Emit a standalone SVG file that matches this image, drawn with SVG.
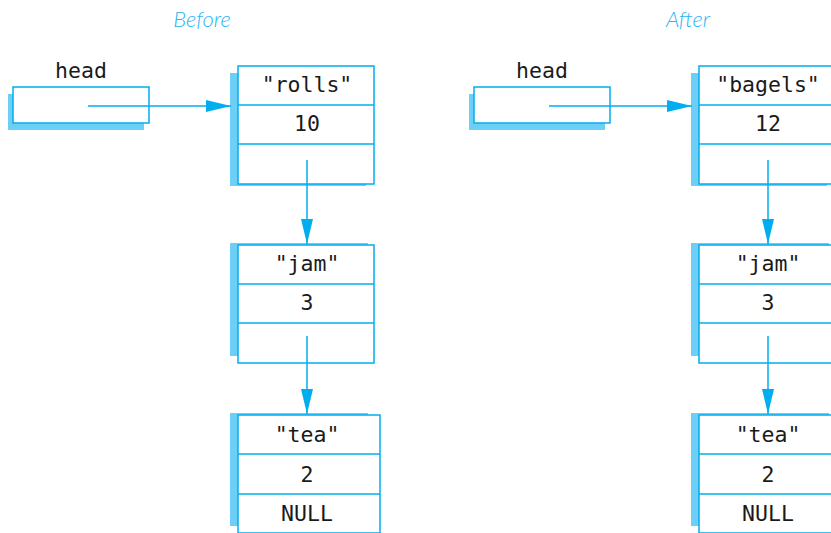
<svg xmlns="http://www.w3.org/2000/svg" width="831" height="533" viewBox="0 0 831 533">
<style>
.sh{fill:#6dcff6;stroke:none}
.bx{fill:#ffffff;stroke:#00aeef;stroke-width:1.5}
.dv{stroke:#00aeef;stroke-width:1.5}
.cn{stroke:#00aeef;stroke-width:1.5;fill:none}
.t{font-family:"DejaVu Sans Mono","Liberation Mono",monospace;font-size:21.5px;fill:#1a1a1a;text-anchor:middle}
.ti{font-family:"Lato","Open Sans",sans-serif;font-style:italic;font-weight:300;font-size:22px;fill:#29b6f6;text-anchor:middle}
</style>
<defs>
<marker id="ah" viewBox="0 0 25 12" refX="25" refY="6" markerWidth="25" markerHeight="12" markerUnits="userSpaceOnUse" orient="auto">
<path d="M0,0 L25,6 L0,12 Z" fill="#00aeef"/>
</marker>
</defs>
<text class="ti" x="202" y="27">Before</text>
<text class="ti" x="688" y="27">After</text>

<g id="before-head">
<rect class="sh" x="8" y="94" width="136" height="36"/>
<rect class="bx" x="13" y="87" width="136" height="36"/>
<text class="t" x="81" y="78">head</text>
</g>
<g id="before-rolls">
<rect class="sh" x="230" y="73" width="136" height="113"/>
<rect class="bx" x="238" y="66" width="136" height="118"/>
<line class="dv" x1="238" y1="105" x2="374" y2="105"/>
<line class="dv" x1="238" y1="144" x2="374" y2="144"/>
<text class="t" x="307" y="92">"rolls"</text>
<text class="t" x="307" y="131">10</text>
</g>
<g id="before-jam">
<rect class="sh" x="230" y="243" width="138" height="113"/>
<rect class="bx" x="238" y="245" width="136" height="118"/>
<line class="dv" x1="238" y1="284" x2="374" y2="284"/>
<line class="dv" x1="238" y1="323" x2="374" y2="323"/>
<text class="t" x="307" y="271">"jam"</text>
<text class="t" x="307" y="310">3</text>
</g>
<g id="before-tea">
<rect class="sh" x="230" y="413" width="138" height="113"/>
<rect class="bx" x="238" y="415" width="142" height="118"/>
<line class="dv" x1="238" y1="454" x2="380" y2="454"/>
<line class="dv" x1="238" y1="494" x2="380" y2="494"/>
<text class="t" x="307" y="442">"tea"</text>
<text class="t" x="307" y="482">2</text>
<text class="t" x="307" y="521">NULL</text>
</g>

<g id="after-head">
<rect class="sh" x="469" y="94" width="136" height="36"/>
<rect class="bx" x="474" y="87" width="136" height="36"/>
<text class="t" x="542" y="78">head</text>
</g>
<g id="after-bagels">
<rect class="sh" x="691" y="73" width="136" height="113"/>
<rect class="bx" x="699" y="66" width="136" height="118"/>
<line class="dv" x1="699" y1="105" x2="835" y2="105"/>
<line class="dv" x1="699" y1="144" x2="835" y2="144"/>
<text class="t" x="768" y="92">"bagels"</text>
<text class="t" x="768" y="131">12</text>
</g>
<g id="after-jam">
<rect class="sh" x="691" y="243" width="138" height="113"/>
<rect class="bx" x="699" y="245" width="136" height="118"/>
<line class="dv" x1="699" y1="284" x2="835" y2="284"/>
<line class="dv" x1="699" y1="323" x2="835" y2="323"/>
<text class="t" x="768" y="271">"jam"</text>
<text class="t" x="768" y="310">3</text>
</g>
<g id="after-tea">
<rect class="sh" x="691" y="413" width="138" height="113"/>
<rect class="bx" x="699" y="415" width="142" height="118"/>
<line class="dv" x1="699" y1="454" x2="841" y2="454"/>
<line class="dv" x1="699" y1="494" x2="841" y2="494"/>
<text class="t" x="768" y="442">"tea"</text>
<text class="t" x="768" y="482">2</text>
<text class="t" x="768" y="521">NULL</text>
</g>

<g id="connectors">
<line class="cn" x1="88" y1="106" x2="231" y2="106" marker-end="url(#ah)"/>
<line class="cn" x1="307" y1="160" x2="307" y2="244" marker-end="url(#ah)"/>
<line class="cn" x1="307" y1="336" x2="307" y2="414" marker-end="url(#ah)"/>
<line class="cn" x1="549" y1="106" x2="692" y2="106" marker-end="url(#ah)"/>
<line class="cn" x1="768" y1="160" x2="768" y2="244" marker-end="url(#ah)"/>
<line class="cn" x1="768" y1="336" x2="768" y2="414" marker-end="url(#ah)"/>
</g>
</svg>
